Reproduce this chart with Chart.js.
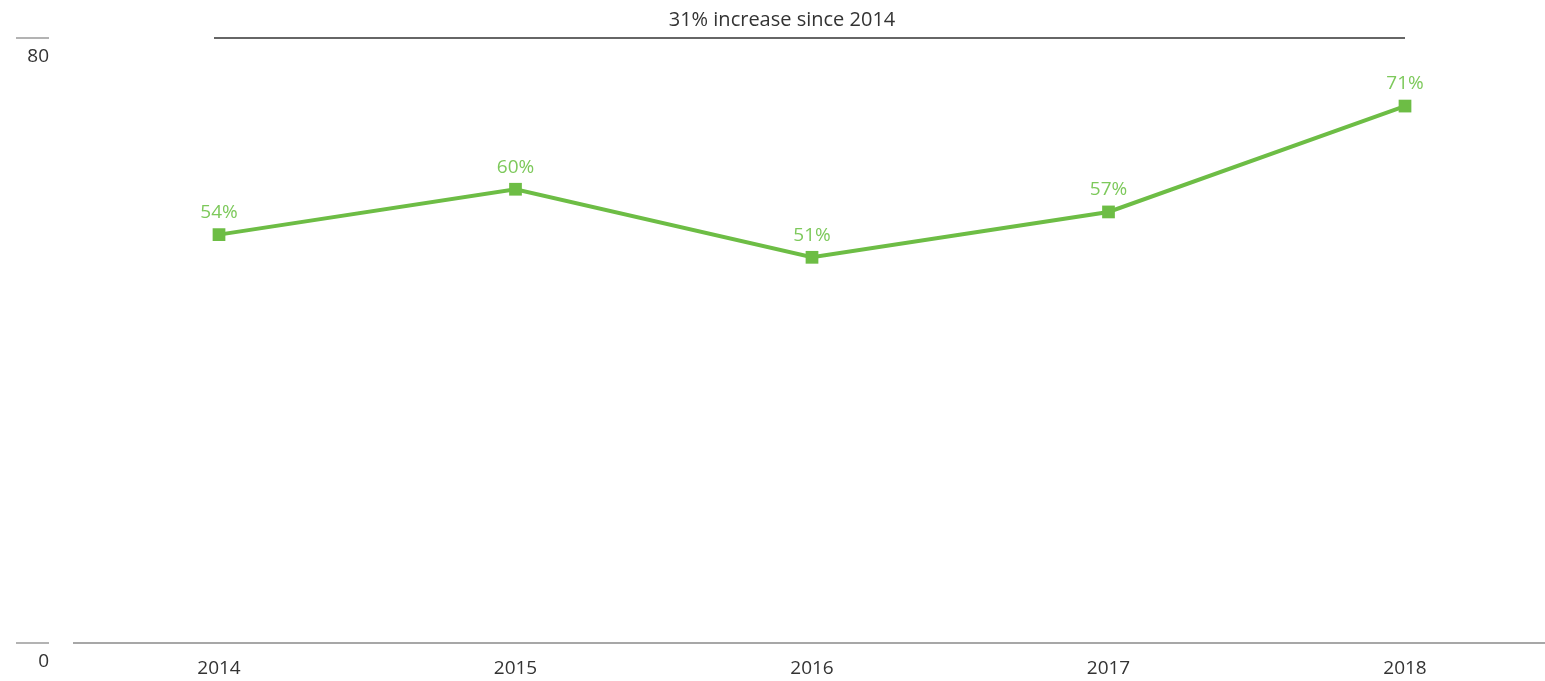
<!DOCTYPE html>
<html>
<head>
<meta charset="utf-8">
<title>Share trend 2014-2018</title>
<script src="https://cdn.jsdelivr.net/npm/chart.js@4/dist/chart.umd.min.js"></script>
<style>
  html, body { margin: 0; padding: 0; background: #fff; }
  #wrap { width: 1545px; height: 681px; position: relative; }
</style>
</head>
<body>
<div id="wrap"><canvas id="myChart"></canvas></div>
<script>
const years = ['2014', '2015', '2016', '2017', '2018'];
const shares = [54, 60, 51, 57, 71];
const yTicks = [0, 80];
const headline = '31% increase since 2014';

const FONT = '"Open Sans", "DejaVu Sans", sans-serif';
const GREEN = '#6dbd45';
const LABEL_GREEN = '#7dc95b';

// value labels above each point, axis stubs on the left, headline bracket on top
const extras = {
    id: 'extras',
    afterDatasetsDraw(chart) {
        const ctx = chart.ctx;
        const y = chart.scales.y;
        const x = chart.scales.x;
        const meta = chart.getDatasetMeta(0);

        ctx.save();
        ctx.font = '19px ' + FONT;
        ctx.fillStyle = LABEL_GREEN;
        ctx.textAlign = 'center';
        ctx.textBaseline = 'middle';
        meta.data.forEach((pt, i) => {
            ctx.fillText(shares[i] + '%', pt.x, pt.y - 22);
        });

        // baseline
        const y0 = y.getPixelForValue(0);
        ctx.strokeStyle = '#8a8a8a';
        ctx.lineWidth = 1.3;
        ctx.beginPath();
        ctx.moveTo(73, y0);
        ctx.lineTo(chart.width, y0);
        ctx.stroke();

        // left ticks with labels under them
        ctx.font = '19px ' + FONT;
        ctx.fillStyle = '#333';
        ctx.textAlign = 'right';
        yTicks.forEach(v => {
            const py = y.getPixelForValue(v);
            ctx.strokeStyle = '#9a9a9a';
            ctx.beginPath();
            ctx.moveTo(16, py);
            ctx.lineTo(49, py);
            ctx.stroke();
            ctx.fillText(String(v), 49, py + 19);
        });

        // headline bracket from first to last year
        const top = y.getPixelForValue(80);
        ctx.strokeStyle = '#333';
        ctx.lineWidth = 1.5;
        ctx.beginPath();
        ctx.moveTo(x.getPixelForValue(0) - 5, top);
        ctx.lineTo(x.getPixelForValue(years.length - 1), top);
        ctx.stroke();
        ctx.textAlign = 'center';
        ctx.font = '20px ' + FONT;
        ctx.fillText(headline, 782, top - 18);
        ctx.restore();
    }
};

const ctx = document.getElementById('myChart').getContext('2d');
const myChart = new Chart(ctx, {
    type: 'line',
    data: {
        labels: years,
        datasets: [{
            data: shares,
            borderColor: GREEN,
            backgroundColor: GREEN,
            borderWidth: 4,
            pointStyle: 'rect',
            pointRadius: 9,
            pointHoverRadius: 9,
            pointBorderWidth: 0,
            tension: 0
        }]
    },
    options: {
        responsive: true,
        maintainAspectRatio: false,
        animation: false,
        layout: {
            padding: { left: 219, right: 140, top: 38, bottom: 0 }
        },
        plugins: {
            legend: { display: false },
            tooltip: { enabled: false }
        },
        scales: {
            x: {
                offset: false,
                grid: { display: false, drawTicks: false },
                border: { display: false },
                ticks: {
                    color: '#333',
                    font: { size: 19, family: FONT },
                    padding: 14
                },
                afterFit(scale) {
                    scale.height = 38;
                }
            },
            y: {
                display: false,
                min: 0,
                max: 80
            }
        }
    },
    plugins: [extras]
});
</script>
</body>
</html>
